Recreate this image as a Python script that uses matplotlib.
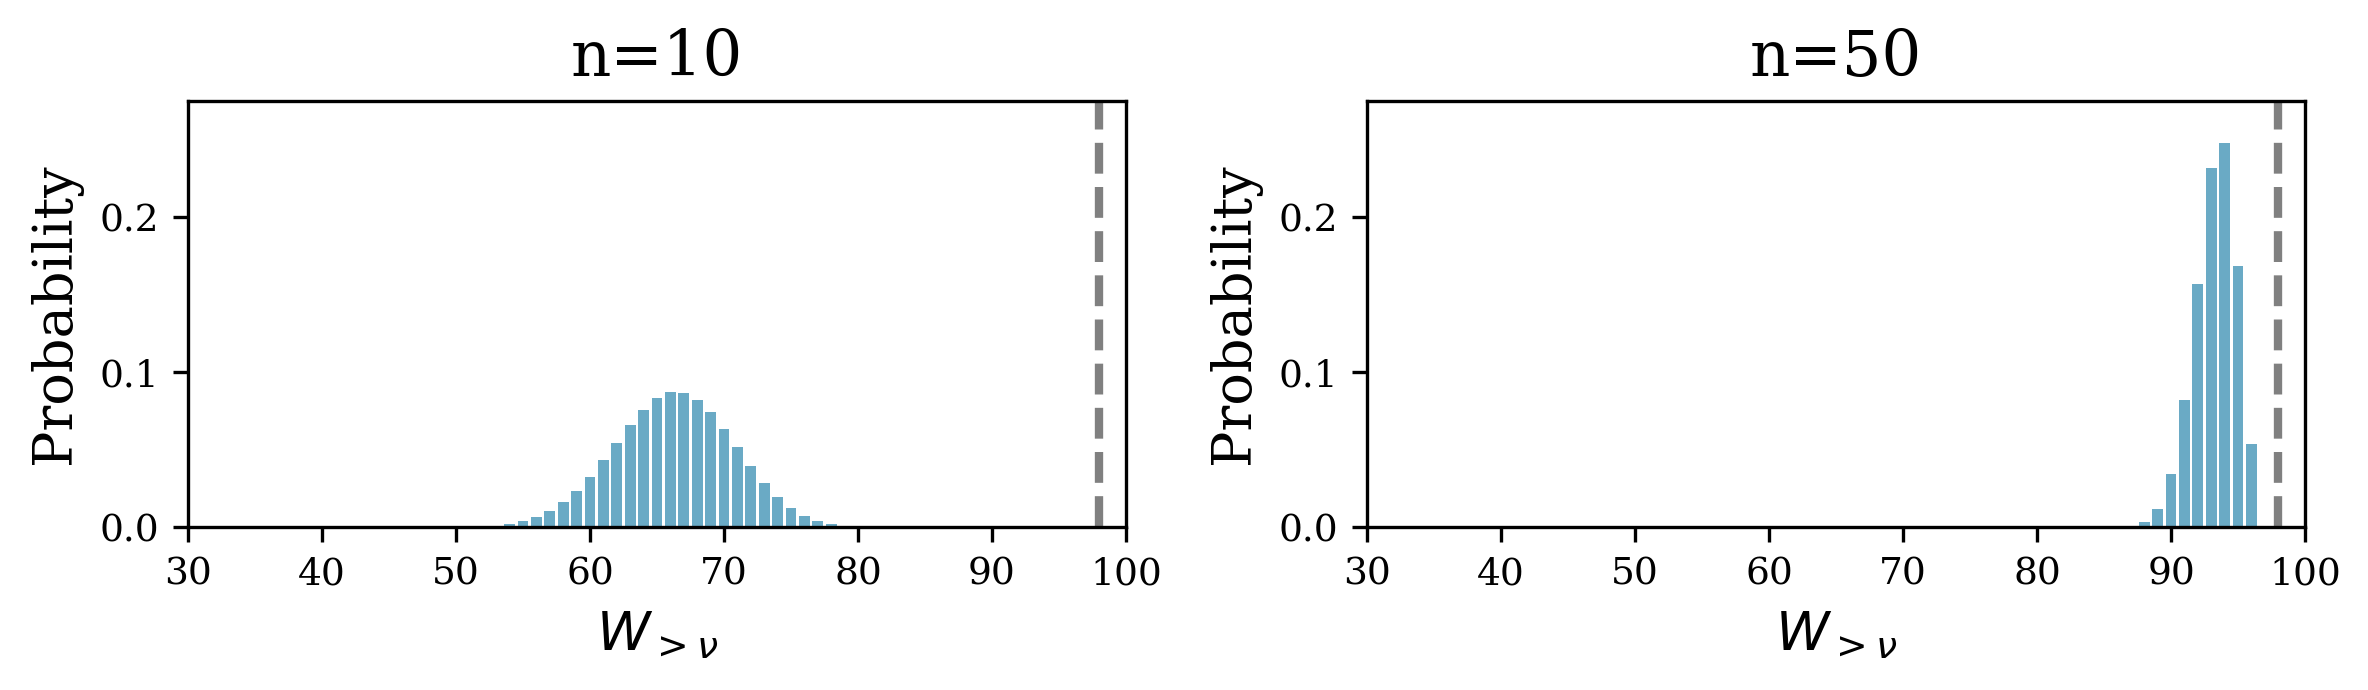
import matplotlib
matplotlib.use("Agg")
import matplotlib.pyplot as plt

plt.rcParams['font.family'] = ['DejaVu Serif']

# n = 10
x10 = list(range(53, 80))
p10 = [0.0006, 0.0019, 0.0039, 0.0065, 0.0103, 0.0161, 0.0232, 0.0323, 0.0432,
       0.0542, 0.0658, 0.0755, 0.0832, 0.0871, 0.0865, 0.0819, 0.0742, 0.0632,
       0.0516, 0.0394, 0.0284, 0.0194, 0.0123, 0.0071, 0.0039, 0.0019, 0.0006]

# n = 50
x50 = list(range(88, 97))
p50 = [0.0032, 0.0116, 0.0342, 0.0819, 0.1568, 0.2316, 0.2477, 0.1684, 0.0535]

titles = ["n=10", "n=50"]
threshold = 98
xticks = [30, 40, 50, 60, 70, 80, 90, 100]
yticks = [0.0, 0.1, 0.2]

W, H = 2368, 690
fig = plt.figure(figsize=(W / 300, H / 300), dpi=300)
ax_bottom, ax_top = 527, 101
lefts = [188, 1367]
width = 1126 - 188

bar_color = '#6aaac5'
for left, xs, ps, title in zip(lefts, [x10, x50], [p10, p50], titles):
    ax = fig.add_axes([left / W, 1 - ax_bottom / H, width / W, (ax_bottom - ax_top) / H])
    ax.bar(xs, ps, width=0.8, color=bar_color)
    ax.axvline(threshold, color='gray', linestyle='--', linewidth=2)
    ax.set_xlim(30, 100)
    ax.set_ylim(0, 0.275)
    ax.set_xticks(xticks)
    ax.set_yticks(yticks)
    ax.tick_params(labelsize=9)
    ax.set_title(title, fontsize=15)
    ax.set_ylabel("Probability", fontsize=13)
    ax.set_xlabel(r"$W_{>\nu}$", fontsize=13)

fig.savefig("out.png", dpi=300)
